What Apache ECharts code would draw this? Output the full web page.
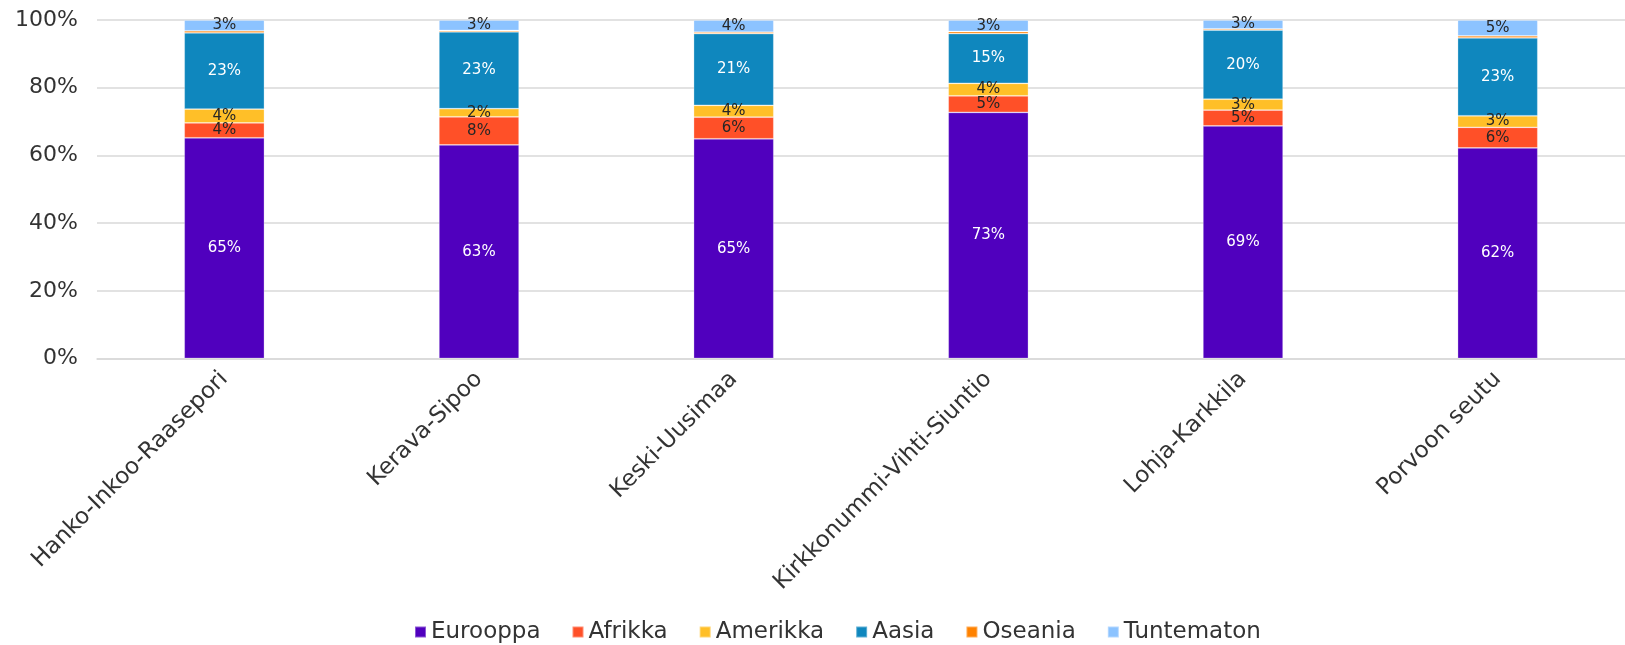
<!DOCTYPE html>
<html>
<head>
<meta charset="utf-8">
<script src="https://cdn.jsdelivr.net/npm/echarts@6/dist/echarts.min.js"></script>
<style>
html,body{margin:0;padding:0;background:#fff;}
#chart{width:1625px;height:645px;}
</style>
</head>
<body>
<div id="chart"></div>
<script>
const categories = ["Hanko-Inkoo-Raasepori","Kerava-Sipoo","Keski-Uusimaa","Kirkkonummi-Vihti-Siuntio","Lohja-Karkkila","Porvoon seutu"];
const eurooppa   = [65.2, 63.1, 64.9, 72.7, 68.7, 62.2];
const afrikka    = [4.4, 8.3, 6.4, 4.9, 4.7, 6.1];
const amerikka   = [4.1, 2.4, 3.5, 3.7, 3.2, 3.4];
const aasia      = [22.5, 22.7, 21.2, 14.7, 20.4, 23.0];
const oseania    = [0.6, 0.4, 0.4, 0.6, 0.4, 0.6];
const tuntematon = [3.2, 3.1, 3.6, 3.4, 2.6, 4.7];
const yTicks = [0, 20, 40, 60, 80, 100];

const FONT = "DejaVu Sans";
const dark = "#262626";
function mk(name, data, color, labelColor, showLabel) {
  return {
    name: name, type: 'bar', stack: 'total', data: data,
    barWidth: '31.5%',
    itemStyle: { color: color, borderColor: 'rgba(255,255,255,0.35)', borderWidth: 0.8 },
    label: {
      show: showLabel, position: 'inside', color: labelColor,
      fontFamily: FONT, fontSize: 15,
      formatter: p => Math.round(p.value) + '%'
    },
    emphasis: { disabled: true }
  };
}
const chart = echarts.init(document.getElementById('chart'));
chart.setOption({
  animation: false,
  backgroundColor: '#fff',
  grid: { left: 97, right: -12, top: 20, bottom: 286.5, containLabel: false },
  xAxis: {
    type: 'category', data: categories,
    axisLine: { lineStyle: { color: '#D9D9D9', width: 1.5 } },
    axisTick: { show: false },
    axisLabel: { rotate: 45, margin: 17, color: '#333', fontFamily: FONT, fontSize: 23, interval: 0 }
  },
  yAxis: {
    type: 'value', min: 0, max: 100, interval: 20,
    axisLine: { show: false }, axisTick: { show: false },
    splitLine: { lineStyle: { color: '#D9D9D9', width: 1.5 } },
    axisLabel: { margin: 19, color: '#333', fontFamily: FONT, fontSize: 22,
      formatter: v => yTicks.includes(v) ? v + '%' : '' }
  },
  legend: {
    left: 414, top: 619, padding: 0, icon: 'rect', itemWidth: 11, itemHeight: 11, itemGap: 31,
    textStyle: { fontFamily: FONT, fontSize: 23, color: '#333', lineHeight: 26 },
    data: ['Eurooppa','Afrikka','Amerikka','Aasia','Oseania','Tuntematon']
  },
  series: [
    mk('Eurooppa', eurooppa, '#5000BE', '#fff', true),
    mk('Afrikka', afrikka, '#FF5028', dark, true),
    mk('Amerikka', amerikka, '#FFBF28', dark, true),
    mk('Aasia', aasia, '#0F87BE', '#fff', true),
    mk('Oseania', oseania, '#FF8200', dark, false),
    mk('Tuntematon', tuntematon, '#8CC3FF', dark, true)
  ]
});
</script>
</body>
</html>
